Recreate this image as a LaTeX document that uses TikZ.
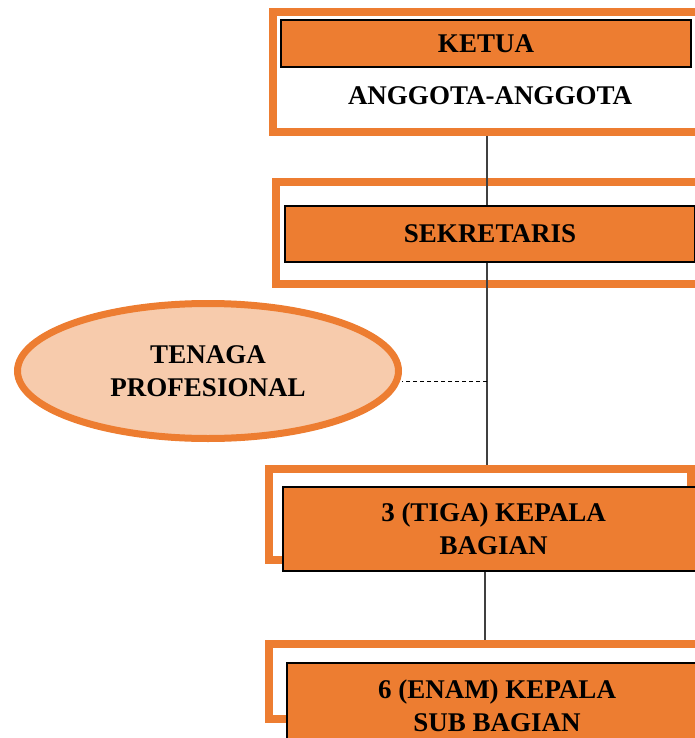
\documentclass[tikz,border=0pt]{standalone}
\usepackage{fontspec}
\setmainfont{Liberation Serif}
\usetikzlibrary{shapes.geometric}
\definecolor{oranye}{HTML}{ED7D31}
\definecolor{persik}{HTML}{F7CBAC}
\tikzset{
  bingkai/.style={draw=oranye,line width=8pt,minimum width=#1},
  kotak/.style={draw=black,fill=oranye,line width=1.2pt,align=center,inner sep=0pt,
    font=\bfseries\fontsize{27}{33}\selectfont},
  garis/.style={draw=black!75,line width=1.3pt},
}
\begin{document}
\begin{tikzpicture}[x=1pt,y=-1pt]
\useasboundingbox (0,0) rectangle (695,738);
\clip (0,0) rectangle (695,738);
		% bingkai oranye
		\node[bingkai=447pt,minimum height=120pt] (bingkaiA) at (496.5,72) {};
		\node[bingkai=444.5pt,minimum height=102pt] (bingkaiB) at (497.75,233) {};
		\node[bingkai=422.5pt,minimum height=91pt] (bingkaiC) at (479.75,514.5) {};
		\node[bingkai=451.5pt,minimum height=75pt] (bingkaiD) at (494.25,681.5) {};
		% kotak jabatan
		\node[kotak,minimum width=410pt,minimum height=47pt] (ketua) at (486,43.5) {KETUA};
		\node[font=\bfseries\fontsize{27}{33}\selectfont] (anggota) at (490,96) {ANGGOTA-ANGGOTA};
		\node[kotak,minimum width=410pt,minimum height=56pt] (sekretaris) at (490,234) {SEKRETARIS};
		\node[kotak,minimum width=421pt,minimum height=84pt] (kabag) at (493.5,529) {3 (TIGA) KEPALA\\BAGIAN};
		\node[kotak,minimum width=420pt,minimum height=85pt] (kasubag) at (497,705.5) {6 (ENAM) KEPALA\\SUB BAGIAN};
		\node[ellipse,draw=oranye,fill=persik,line width=7pt,minimum width=381pt,minimum height=135pt,
			align=center,font=\bfseries\fontsize{27}{33}\selectfont] (tenaga) at (208,371) {TENAGA\\PROFESIONAL};
		% garis
		\coordinate (cabang) at (487,381);
		\draw[garis] (bingkaiA.south -| cabang) -- (sekretaris.north -| cabang);
		\draw[garis] (sekretaris.south -| cabang) -- (bingkaiC.north -| cabang);
		\draw[dashed,dash pattern=on 4pt off 3pt,line width=1pt] (cabang) -- (cabang -| tenaga.east);
		\draw[garis] ([xshift=-2pt]kabag.south -| cabang) -- ([xshift=-2pt]bingkaiD.north -| cabang);
\end{tikzpicture}
\end{document}
